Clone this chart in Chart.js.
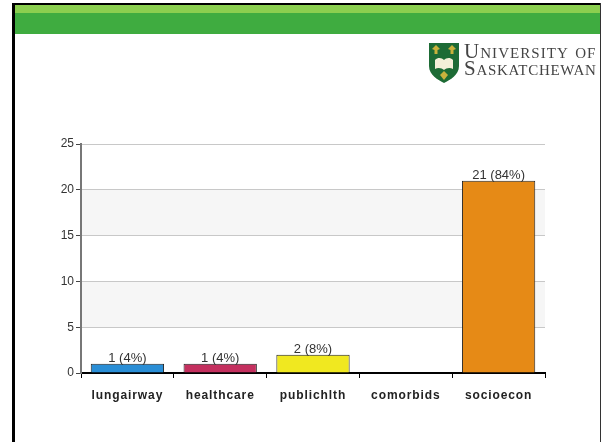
<!DOCTYPE html>
<html>
<head>
<meta charset="utf-8">
<style>
html, body { margin: 0; padding: 0; background: #fff; overflow: hidden; }
#page { position: relative; width: 602px; height: 442px; overflow: hidden; }
#chart { position: absolute; left: 0; top: 0; }
.frame { position: absolute; background: #000; }
.band { position: absolute; }
#crest { position: absolute; left: 428px; top: 42px; }
.logotext { position: absolute; left: 464px; font-family: "Liberation Serif", serif; font-size: 21px;
  font-variant: small-caps; color: #444; white-space: nowrap; letter-spacing: 0.95px; line-height: 16px; }
</style>
</head>
<body>
<div id="page">
  <canvas id="chart" width="602" height="442"></canvas>
  <div class="frame" style="left:12px;top:3px;width:3px;height:439px"></div>
  <div class="frame" style="left:12px;top:3px;width:589px;height:2px"></div>
  <div class="frame" style="left:600px;top:3px;width:1px;height:439px;background:#333"></div>
  <div class="band" style="left:15px;top:5px;width:585px;height:8px;background:#8bcf4f"></div>
  <div class="band" style="left:15px;top:13px;width:585px;height:21px;background:#3fac40"></div>
  <svg id="crest" width="32" height="42" viewBox="0 0 32 42">
    <path d="M1 1 H31 V24 C31 33 22 38 16 41 C10 38 1 33 1 24 Z" fill="#1d6b35"/>
    <path d="M8 3 L12 7 L9.5 8 L9.5 12 L6.5 12 L6.5 8 L4 7 Z M24 3 L28 7 L25.5 8 L25.5 12 L22.5 12 L22.5 8 L20 7 Z" fill="#c9b23c"/>
    <path d="M7 18 C10 15 14 16 16 18 C18 16 22 15 25 18 V27 C22 25 18 26 16 28 C14 26 10 25 7 27 Z" fill="#f4efd8"/>
    <path d="M16 29 L20 33 L16 38 L12 33 Z" fill="#c9b23c"/>
  </svg>
  <div class="logotext" style="top:43px;letter-spacing:1.05px">University of</div>
  <div class="logotext" style="top:60px;letter-spacing:0.7px">Saskatchewan</div>
</div>
<script src="https://cdn.jsdelivr.net/npm/chart.js@4/dist/chart.umd.min.js"></script>
<script>
const categories = ['lungairway', 'healthcare', 'publichlth', 'comorbids', 'socioecon'];
const counts = [1, 1, 2, 0, 21];
const percents = [4, 4, 8, 0, 84];
const barColors = ['#2a8ed6', '#c4305f', '#f0e820', '#e68a16', '#e68a16'];
const yTicks = [0, 5, 10, 15, 20, 25];
const shadedBands = [[5, 10], [15, 20]];

// grey stripes behind the bars
const stripes = {
    id: 'stripes',
    beforeDraw(chart) {
        const ctx = chart.ctx, y = chart.scales.y, area = chart.chartArea;
        ctx.save();
        ctx.fillStyle = '#f6f6f6';
        shadedBands.forEach(b => {
            const top = y.getPixelForValue(b[1]);
            ctx.fillRect(area.left, top, area.right - area.left, y.getPixelForValue(b[0]) - top);
        });
        ctx.restore();
    }
};

// "n (p%)" over each bar, skipped when the count is 0
const barLabels = {
    id: 'barLabels',
    afterDatasetsDraw(chart) {
        const ctx = chart.ctx;
        ctx.save();
        ctx.font = '13px "Liberation Sans"';
        ctx.fillStyle = '#333';
        ctx.textAlign = 'center';
        ctx.textBaseline = 'bottom';
        chart.getDatasetMeta(0).data.forEach((bar, i) => {
            if (counts[i] > 0) ctx.fillText(counts[i] + ' (' + percents[i] + '%)', bar.x, bar.y + 1);
        });
        ctx.restore();
        // x tick labels are drawn after this (ticks.z = 1) and are spaced out in the original
        ctx.letterSpacing = '0.9px';
    },
    afterDraw(chart) {
        chart.ctx.letterSpacing = '0px';
    }
};

new Chart(document.getElementById('chart').getContext('2d'), {
    type: 'bar',
    data: {
        labels: categories,
        datasets: [{
            data: counts,
            backgroundColor: barColors,
            borderColor: '#222',
            borderWidth: 1,
            barPercentage: 0.79,
            categoryPercentage: 1
        }]
    },
    plugins: [stripes, barLabels],
    options: {
        responsive: false,
        animation: false,
        layout: { padding: { top: 144, right: 57 } },
        plugins: { legend: { display: false }, tooltip: { enabled: false } },
        scales: {
            x: {
                afterFit(scale) { scale.height = 69; },
                grid: { display: true, drawOnChartArea: false, offset: true, color: '#000', tickColor: '#000', tickLength: 5, lineWidth: 1 },
                border: { color: '#000', width: 2 },
                ticks: { z: 1, color: '#222', padding: 10, maxRotation: 0, font: { family: '"Liberation Sans"', size: 12, weight: 'bold' } }
            },
            y: {
                min: 0,
                max: 25,
                afterFit(scale) { scale.width = 81; },
                afterBuildTicks(scale) { scale.ticks = yTicks.map(v => ({ value: v })); },
                grid: { color: '#c8c8c8', tickColor: '#444', tickLength: 5, lineWidth: 1 },
                border: { color: '#777', width: 2 },
                ticks: { color: '#333', padding: 2, font: { family: '"Liberation Sans"', size: 12 } }
            }
        }
    }
});
</script>
</body>
</html>
